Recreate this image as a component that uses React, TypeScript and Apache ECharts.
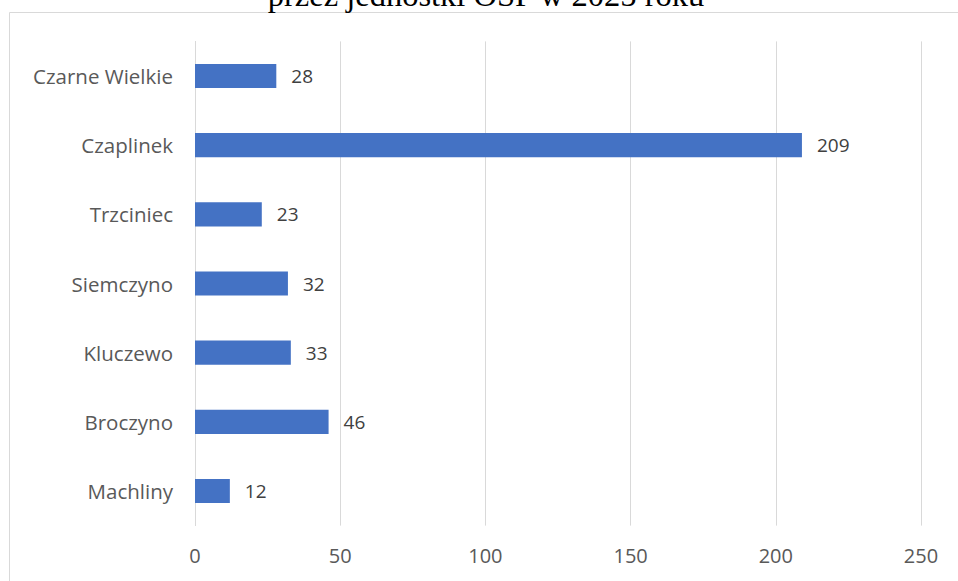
import React, { useEffect, useRef } from "react";
import * as echarts from "echarts";

const titleText = "przez jednostki OSP w 2025 roku";
const categories = ["Machliny", "Broczyno", "Kluczewo", "Siemczyno", "Trzciniec", "Czaplinek", "Czarne Wielkie"];
const values = [12, 46, 33, 32, 23, 209, 28];
const axisMin = 0;
const axisMax = 250;
const axisInterval = 50;

export default function App() {
  const ref = useRef<HTMLDivElement>(null);
  useEffect(() => {
    if (!ref.current) return;
    const chart = echarts.init(ref.current, null, { renderer: "svg" });
    chart.setOption({
      animation: false,
      backgroundColor: "#ffffff",
      graphic: [
        {
          type: "rect",
          shape: { x: 9.5, y: 12.5, width: 1000, height: 700 },
          style: { fill: "none", stroke: "#d9d9d9", lineWidth: 1 },
          z: 0,
        },
        {
          type: "text",
          x: 486,
          y: -5.5,
          style: {
            text: titleText,
            fontFamily: "Liberation Serif, Times New Roman, serif",
            fontSize: 32.5,
            fill: "#000000",
            align: "center",
            verticalAlign: "middle",
          },
          z: 10,
        },
      ],
      grid: { left: 195, right: 37, top: 41.4, bottom: 55.4, containLabel: false },
      xAxis: {
        type: "value",
        min: axisMin,
        max: axisMax,
        interval: axisInterval,
        axisLine: { show: false },
        axisTick: { show: false },
        splitLine: { lineStyle: { color: "#d9d9d9", width: 1 } },
        axisLabel: {
          color: "#595959",
          fontFamily: "Open Sans, sans-serif",
          fontSize: 20,
          margin: 20,
        },
      },
      yAxis: {
        type: "category",
        data: categories,
        axisLine: { show: true, lineStyle: { color: "#d9d9d9", width: 1 } },
        axisTick: { show: false },
        axisLabel: {
          color: "#595959",
          fontFamily: "Open Sans, sans-serif",
          fontSize: 20.5,
          margin: 22,
        },
      },
      series: [
        {
          type: "bar",
          data: values,
          barWidth: "35%",
          itemStyle: { color: "#4472C4" },
          label: {
            show: true,
            position: "right",
            distance: 15,
            color: "#404040",
            fontFamily: "Open Sans, sans-serif",
            fontSize: 19,
          },
        },
      ],
    });
    return () => chart.dispose();
  }, []);
  return <div ref={ref} style={{ width: 958, height: 581, position: "absolute", left: 0, top: 0 }} />;
}
